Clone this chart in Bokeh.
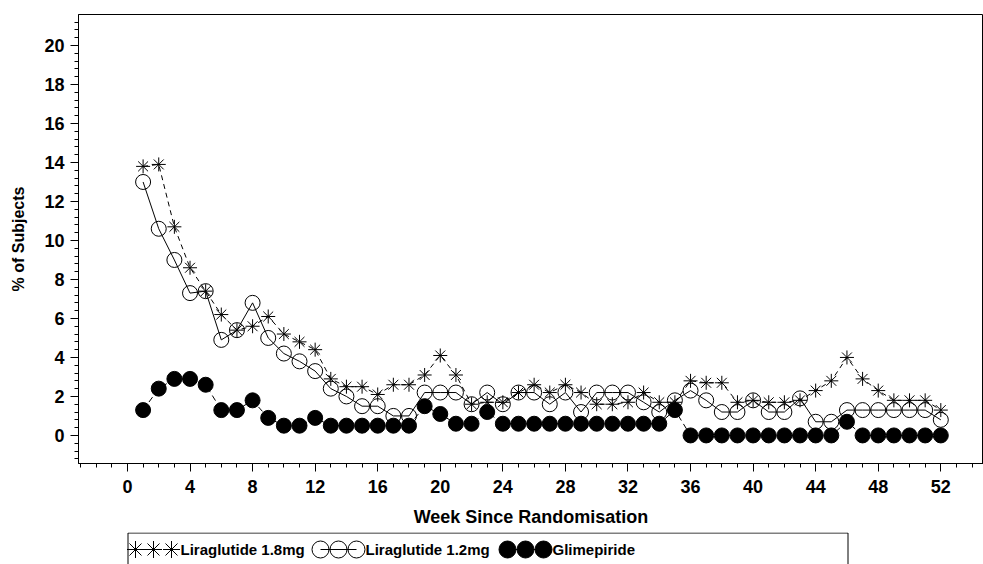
from bokeh.plotting import figure
from bokeh.models import Range1d, FixedTicker
from bokeh.layouts import column
from bokeh.embed import file_html
from bokeh.resources import INLINE
from bokeh.core.properties import value

# ---------------- data ----------------
weeks = list(range(1, 53))
lira_18 = [13.8, 13.9, 10.7, 8.6, 7.4, 6.2, 5.4, 5.6, 6.1, 5.2, 4.8, 4.4, 2.9, 2.5, 2.5, 2.1,
           2.6, 2.6, 3.1, 4.1, 3.1, 1.6, 1.7, 1.7, 2.2, 2.6, 2.2, 2.6, 2.2, 1.6, 1.6, 1.7,
           2.2, 1.7, 1.7, 2.8, 2.7, 2.7, 1.7, 1.8, 1.7, 1.7, 1.8, 2.3, 2.8, 4.0, 2.9, 2.3,
           1.8, 1.8, 1.8, 1.3]
lira_12 = [13.0, 10.6, 9.0, 7.3, 7.4, 4.9, 5.4, 6.8, 5.0, 4.2, 3.8, 3.3, 2.4, 2.0, 1.5, 1.5,
           1.0, 1.0, 2.2, 2.2, 2.2, 1.6, 2.2, 1.6, 2.2, 2.2, 1.6, 2.2, 1.2, 2.2, 2.2, 2.2,
           1.7, 1.2, 1.8, 2.3, 1.8, 1.2, 1.2, 1.8, 1.2, 1.2, 1.9, 0.7, 0.7, 1.3, 1.3, 1.3,
           1.3, 1.3, 1.3, 0.8]
glim = [1.3, 2.4, 2.9, 2.9, 2.6, 1.3, 1.3, 1.8, 0.9, 0.5, 0.5, 0.9, 0.5, 0.5, 0.5, 0.5,
        0.5, 0.5, 1.5, 1.1, 0.6, 0.6, 1.2, 0.6, 0.6, 0.6, 0.6, 0.6, 0.6, 0.6, 0.6, 0.6,
        0.6, 0.6, 1.3, 0, 0, 0, 0, 0, 0, 0, 0, 0, 0, 0.7, 0, 0, 0, 0, 0, 0]
series_names = ["Liraglutide 1.8mg", "Liraglutide 1.2mg", "Glimepiride"]
x_ticks = list(range(0, 53, 4))
y_ticks = list(range(0, 21, 2))
x_label = "Week Since Randomisation"
y_label = "% of Subjects"

# ---------------- styles ----------------
FONT = "Liberation Sans"
BLACK = "black"
LEFT = 78  # frame left edge in pixels (shared by both stacked figures)

p = figure(width=983, height=532,
           x_range=Range1d(-3.13, 54.73), y_range=Range1d(-1.44, 21.59),
           output_backend="svg", toolbar_location=None,
           min_border_left=LEFT, min_border_right=0, min_border_top=14, min_border_bottom=69)
p.xgrid.visible = False
p.ygrid.visible = False
p.outline_line_color = BLACK
p.outline_line_width = 1
p.background_fill_color = "white"
p.border_fill_color = "white"

p.xaxis.ticker = FixedTicker(ticks=x_ticks, minor_ticks=list(range(-3, 55)))
p.yaxis.ticker = FixedTicker(ticks=y_ticks,
                             minor_ticks=[round(-1.2 + 0.4 * i, 2) for i in range(58)])
for ax in (p.xaxis[0], p.yaxis[0]):
    ax.axis_line_color = BLACK
    ax.major_tick_line_color = BLACK
    ax.minor_tick_line_color = BLACK
    ax.major_tick_out = 8
    ax.major_tick_in = 0
    ax.minor_tick_out = 4
    ax.minor_tick_in = 0
    ax.major_label_text_font = FONT
    ax.major_label_text_font_style = "bold"
    ax.major_label_text_font_size = "18px"
    ax.major_label_text_color = BLACK
    ax.axis_label_text_font = FONT
    ax.axis_label_text_font_style = "bold"
    ax.axis_label_text_color = BLACK

p.xaxis.axis_label = x_label
p.yaxis.axis_label = y_label
p.xaxis.axis_label_text_font_size = "18px"
p.yaxis.axis_label_text_font_size = "16px"
p.xaxis.major_label_standoff = 8
p.xaxis.axis_label_standoff = 11
p.yaxis.major_label_standoff = 6
p.yaxis.axis_label_standoff = 14

# Glimepiride
p.line(weeks, glim, line_color=BLACK, line_width=1, line_dash="6 4")
p.scatter(weeks, glim, marker="circle", size=15, fill_color=BLACK, line_color=BLACK)
# Liraglutide 1.2 mg
p.line(weeks, lira_12, line_color=BLACK, line_width=1)
p.scatter(weeks, lira_12, marker="circle", size=15, fill_color=None, line_color=BLACK, line_width=1)
# Liraglutide 1.8 mg
p.line(weeks, lira_18, line_color=BLACK, line_width=1, line_dash="5 4")
p.scatter(weeks, lira_18, marker="asterisk", size=14, line_color=BLACK, line_width=1)

# ---------------- legend strip (x units = window pixels) ----------------
lg = figure(width=983, height=32, x_range=Range1d(LEFT, 983), y_range=Range1d(0, 32),
            output_backend="svg", toolbar_location=None,
            x_axis_location=None, y_axis_location=None,
            min_border_left=LEFT, min_border_right=0, min_border_top=0, min_border_bottom=0)
lg.xgrid.visible = False
lg.ygrid.visible = False
lg.outline_line_color = None
lg.background_fill_color = "white"
lg.border_fill_color = "white"

lg.quad(left=127.5, right=847.5, top=31.5, bottom=-5, fill_color=None, line_color=BLACK, line_width=1)

yc = 15
starts = [126, 311, 498]
specs = [("asterisk", None, "4 3"), ("circle", None, "solid"), ("circle", BLACK, "solid")]
for name, x0, (mk, fill, dash) in zip(series_names, starts, specs):
    xs = [x0 + 9, x0 + 27, x0 + 45]
    lg.line([xs[0], xs[2]], [yc, yc], line_color=BLACK, line_width=1, line_dash=dash)
    lg.scatter(xs, [yc] * 3, marker=mk, size=17,
               fill_color=fill, line_color=BLACK, line_width=1)
    lg.text(x=[xs[2] + 9], y=[yc], text=[name], text_font=value(FONT),
            text_font_style="bold", text_font_size="15px", text_baseline="middle",
            text_align="left", text_color=BLACK)

layout = column(p, lg, spacing=0)
open("out.html", "w").write(file_html(layout, INLINE))
